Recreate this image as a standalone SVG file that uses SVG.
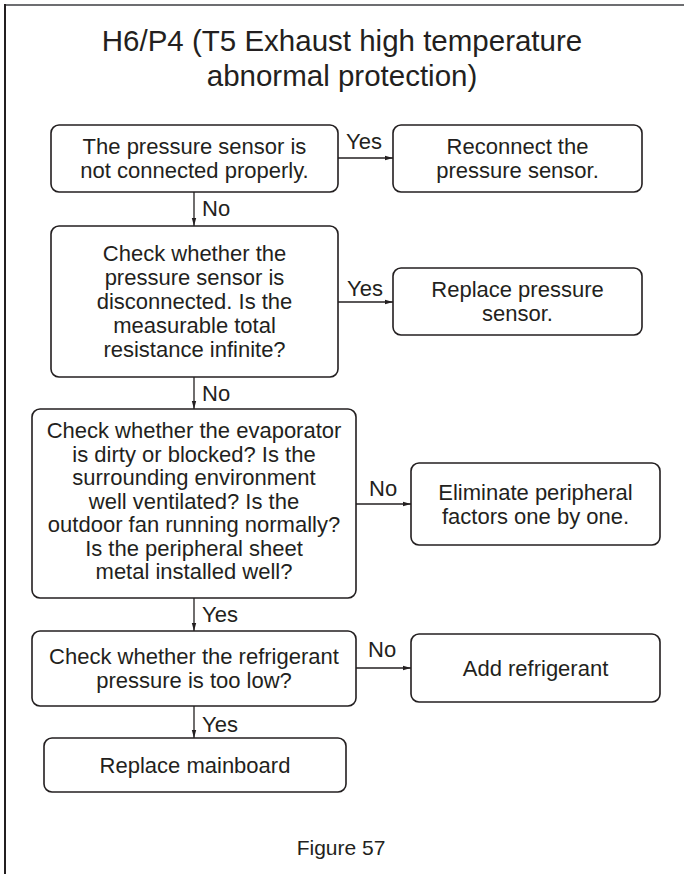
<svg xmlns="http://www.w3.org/2000/svg" width="684" height="874" viewBox="0 0 684 874">
<style>
  .box { fill: #ffffff; stroke: #231f20; stroke-width: 1.6; }
  .t { font-family: "Liberation Sans", Arial, sans-serif; font-size: 22px; fill: #231f20; text-anchor: middle; }
  .lbl { font-family: "Liberation Sans", Arial, sans-serif; font-size: 22px; fill: #231f20; }
  .title { font-family: "Liberation Sans", Arial, sans-serif; font-size: 29.5px; fill: #231f20; text-anchor: middle; }
  .conn { stroke: #231f20; stroke-width: 1.3; fill: none; marker-end: url(#ah); }
</style>
<defs>
  <marker id="ah" markerWidth="8" markerHeight="6" refX="8" refY="3" orient="auto" markerUnits="userSpaceOnUse">
    <path d="M0,0.8 L8,3 L0,5.2 Z" fill="#231f20"/>
  </marker>
</defs>
<rect width="684" height="874" fill="#ffffff"/>
<g id="frame">
  <line x1="5" y1="5" x2="684" y2="5" stroke="#6d6e71" stroke-width="2"/>
  <line x1="5" y1="4" x2="5" y2="874" stroke="#231f20" stroke-width="2"/>
</g>
<g id="title">
  <text class="title" x="342" y="51">H6/P4 (T5 Exhaust high temperature</text>
  <text class="title" x="342" y="86">abnormal protection)</text>
</g>
<g id="connectors">
  <line class="conn" x1="338" y1="158" x2="393" y2="158"/>
  <line class="conn" x1="194" y1="192" x2="194" y2="226"/>
  <line class="conn" x1="338" y1="302" x2="393" y2="302"/>
  <line class="conn" x1="194" y1="377" x2="194" y2="409"/>
  <line class="conn" x1="356" y1="504" x2="411" y2="504"/>
  <line class="conn" x1="194" y1="598" x2="194" y2="631"/>
  <line class="conn" x1="356" y1="668" x2="411" y2="668"/>
  <line class="conn" x1="194" y1="706" x2="194" y2="738"/>
  <text class="lbl" x="346" y="149">Yes</text>
  <text class="lbl" x="202" y="216">No</text>
  <text class="lbl" x="347" y="296">Yes</text>
  <text class="lbl" x="202" y="401">No</text>
  <text class="lbl" x="369" y="496">No</text>
  <text class="lbl" x="202" y="622">Yes</text>
  <text class="lbl" x="368" y="657">No</text>
  <text class="lbl" x="202" y="732">Yes</text>
</g>
<g id="n1">
  <rect class="box" x="51" y="125" width="287" height="67" rx="8"/>
  <text class="t" x="194.5" y="154">The pressure sensor is</text>
  <text class="t" x="194.5" y="178">not connected properly.</text>
</g>
<g id="n2">
  <rect class="box" x="393" y="125" width="249" height="67" rx="8"/>
  <text class="t" x="517.5" y="154">Reconnect the</text>
  <text class="t" x="517.5" y="178">pressure sensor.</text>
</g>
<g id="n3">
  <rect class="box" x="51" y="226" width="287" height="151" rx="8"/>
  <text class="t" x="194.5" y="261">Check whether the</text>
  <text class="t" x="194.5" y="285">pressure sensor is</text>
  <text class="t" x="194.5" y="309">disconnected. Is the</text>
  <text class="t" x="194.5" y="333">measurable total</text>
  <text class="t" x="194.5" y="357">resistance infinite?</text>
</g>
<g id="n4">
  <rect class="box" x="393" y="268" width="249" height="67" rx="8"/>
  <text class="t" x="517.5" y="297">Replace pressure</text>
  <text class="t" x="517.5" y="321">sensor.</text>
</g>
<g id="n5">
  <rect class="box" x="32" y="409" width="324" height="189" rx="8"/>
  <text class="t" x="194" y="438">Check whether the evaporator</text>
  <text class="t" x="194" y="461.5">is dirty or blocked? Is the</text>
  <text class="t" x="194" y="485">surrounding environment</text>
  <text class="t" x="194" y="508.5">well ventilated? Is the</text>
  <text class="t" x="194" y="532">outdoor fan running normally?</text>
  <text class="t" x="194" y="555.5">Is the peripheral sheet</text>
  <text class="t" x="194" y="579">metal installed well?</text>
</g>
<g id="n6">
  <rect class="box" x="411" y="463" width="249" height="82" rx="8"/>
  <text class="t" x="535.5" y="500">Eliminate peripheral</text>
  <text class="t" x="535.5" y="524">factors one by one.</text>
</g>
<g id="n7">
  <rect class="box" x="32" y="631" width="324" height="75" rx="8"/>
  <text class="t" x="194" y="664">Check whether the refrigerant</text>
  <text class="t" x="194" y="688">pressure is too low?</text>
</g>
<g id="n8">
  <rect class="box" x="411" y="634" width="249" height="68" rx="8"/>
  <text class="t" x="535.5" y="676">Add refrigerant</text>
</g>
<g id="n9">
  <rect class="box" x="44" y="738" width="302" height="54" rx="8"/>
  <text class="t" x="195" y="773">Replace mainboard</text>
</g>
<g id="caption">
  <text class="t" x="341" y="855" style="font-size:21px">Figure 57</text>
</g>
</svg>
